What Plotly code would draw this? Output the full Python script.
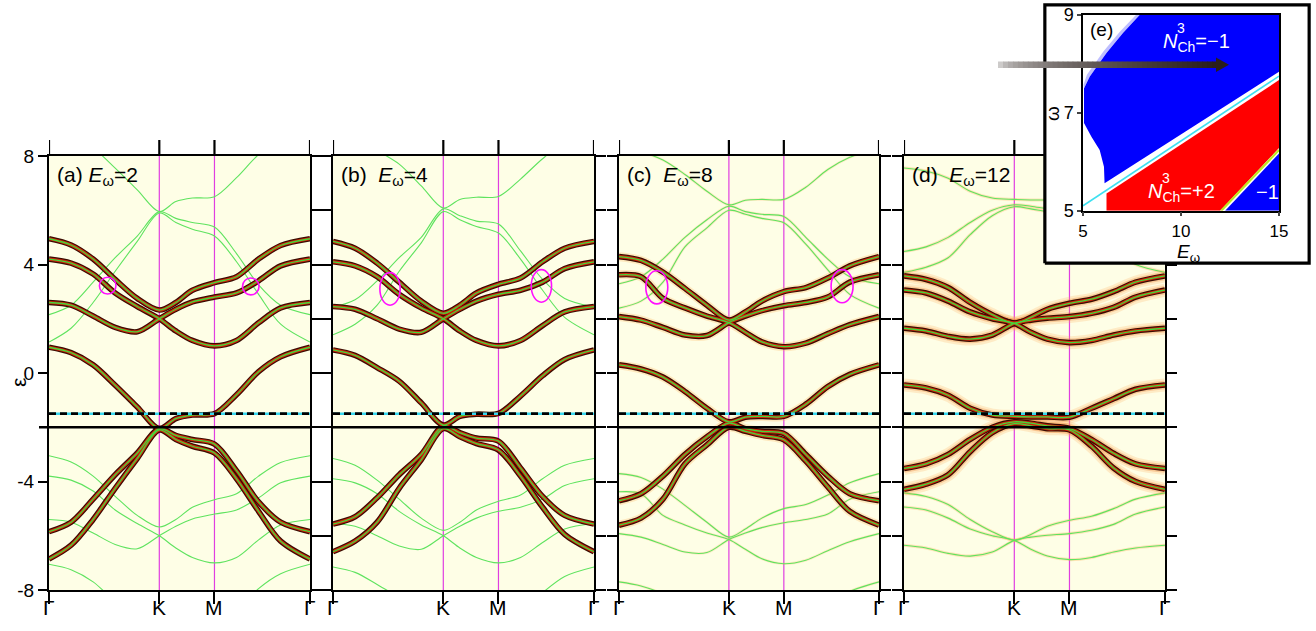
import plotly.graph_objects as go

W, H = 1316, 631

# ---------------- data ----------------
K_PATH = [0, 0.2, 0.4, 0.6, 0.8, 1.0, 1.15, 1.3, 1.5, 1.7, 1.9, 2.1, 2.366]
K_TICK_VALS = [0, 1.0, 1.5, 2.366]
K_TICK_TEXT = ["Γ", "K", "M", "Γ"]
EPS_LABELS = [8, 4, 0, -4, -8]
EPS_TICKS = [8, 6, 4, 2, 0, -2, -4, -6, -8]
OMEGA = 8.0          # Floquet replica shift (ω)
FERMI = -1.5
GAP_LINE = -2.0
PANEL_TAGS = ["(a) ", "(b)  ", "(c)  ", "(d)  "]
E_OMEGA = [2, 4, 8, 12]

BANDS_A = [
    [4.95, 4.72, 4.2, 3.45, 2.75, 2.32, 2.6, 3.05, 3.33, 3.55, 4.2, 4.7, 4.95],
    [4.2, 4.05, 3.65, 2.95, 2.45, 2.0, 1.55, 1.2, 1.0, 1.2, 1.85, 2.4, 2.6],
    [2.6, 2.5, 2.1, 1.68, 1.52, 2.0, 2.35, 2.62, 2.8, 2.95, 3.4, 3.95, 4.2],
    [0.95, 0.75, 0.3, -0.45, -1.25, -2.05, -1.68, -1.55, -1.5, -0.8, 0.05, 0.6, 0.95],
    [-5.85, -5.5, -4.65, -3.75, -2.95, -2.05, -2.3, -2.45, -2.62, -3.6, -4.75, -5.5, -5.85],
    [-6.86, -6.35, -5.4, -4.25, -3.15, -2.1, -2.45, -2.7, -2.95, -3.9, -5.1, -6.2, -6.86],
]
BANDS_B = [
    [4.85, 4.6, 4.05, 3.35, 2.65, 2.2, 2.5, 2.95, 3.27, 3.5, 4.1, 4.6, 4.85],
    [4.1, 3.95, 3.55, 2.9, 2.4, 2.0, 1.55, 1.2, 1.0, 1.2, 1.75, 2.25, 2.45],
    [2.45, 2.35, 2.0, 1.62, 1.5, 2.0, 2.35, 2.65, 2.9, 3.05, 3.35, 3.85, 4.1],
    [0.85, 0.65, 0.2, -0.3, -1.1, -1.92, -1.6, -1.52, -1.49, -0.85, -0.1, 0.5, 0.85],
    [-5.57, -5.3, -4.6, -3.75, -3.0, -1.95, -2.2, -2.4, -2.51, -3.5, -4.55, -5.25, -5.57],
    [-6.59, -6.2, -5.5, -4.25, -3.2, -2.05, -2.35, -2.6, -2.84, -3.8, -4.95, -5.95, -6.59],
]
BANDS_C = [
    [4.29, 4.15, 3.72, 3.12, 2.5, 1.95, 2.25, 2.65, 3.0, 3.15, 3.5, 3.95, 4.29],
    [3.62, 3.55, 2.75, 2.4, 2.1, 1.86, 1.5, 1.15, 0.97, 1.1, 1.45, 1.78, 2.08],
    [2.08, 1.95, 1.68, 1.4, 1.38, 1.86, 2.1, 2.3, 2.48, 2.6, 2.8, 3.35, 3.62],
    [0.3, 0.15, -0.15, -0.68, -1.3, -1.8, -1.63, -1.6, -1.6, -1.15, -0.5, -0.05, 0.3],
    [-4.71, -4.45, -3.8, -3.0, -2.35, -1.85, -2.05, -2.15, -2.23, -3.0, -3.8, -4.45, -4.71],
    [-5.61, -5.35, -4.65, -3.35, -2.65, -2.0, -2.15, -2.3, -2.46, -3.25, -4.2, -5.1, -5.61],
]
BANDS_D = [
    [3.58, 3.45, 3.15, 2.6, 2.15, 1.83, 2.05, 2.35, 2.57, 2.72, 3.0, 3.35, 3.58],
    [3.06, 2.95, 2.65, 2.25, 2.0, 1.83, 1.5, 1.25, 1.12, 1.2, 1.4, 1.55, 1.65],
    [1.65, 1.55, 1.35, 1.25, 1.4, 1.83, 1.95, 2.02, 2.08, 2.2, 2.42, 2.8, 3.06],
    [-0.44, -0.55, -0.82, -1.3, -1.55, -1.6, -1.62, -1.62, -1.63, -1.3, -0.95, -0.6, -0.44],
    [-3.52, -3.35, -3.0, -2.45, -2.0, -1.8, -1.85, -1.95, -2.04, -2.45, -2.96, -3.35, -3.52],
    [-4.29, -4.1, -3.75, -2.9, -2.2, -1.87, -1.95, -2.05, -2.1, -2.7, -3.5, -4.0, -4.29],
]
# magenta anticrossing markers: (k, eps, half-width in k, half-height in eps)
RINGS_A = [(0.532, 3.22, 0.075, 0.31), (1.829, 3.19, 0.075, 0.31)]
RINGS_B = [(0.517, 3.10, 0.092, 0.60), (1.889, 3.21, 0.092, 0.60)]
RINGS_C = [(0.344, 3.16, 0.100, 0.61), (2.030, 3.20, 0.100, 0.61)]

# inset (e): phase diagram in (E_omega, omega)
INSET_E_TICKS = [5, 10, 15]
INSET_W_TICKS = [5, 7, 9]
BLUE_E = [7.89, 15, 15, 6.1, 6.07, 5.85, 5.43, 5.05, 5.05, 5.34, 6.19, 7.04, 7.89]
BLUE_W = [9, 9, 7.84, 5.56, 5.9, 6.24, 6.51, 6.79, 7.5, 7.74, 8.22, 8.63, 9]
FUZZ_E = [7.7, 6.88, 6.03, 5.2, 5.03, 5.05, 5.34, 6.19, 7.04, 7.89, 7.7]
FUZZ_W = [9, 8.66, 8.25, 7.78, 7.58, 7.5, 7.74, 8.22, 8.63, 9, 9]
RED_E = [6.2, 6.2, 15, 15, 12.0, 6.2]
RED_W = [5.0, 5.35, 7.67, 6.28, 5.0, 5.0]
BLUE2_E = [12.25, 15, 15, 12.25]
BLUE2_W = [5.0, 6.17, 5.0, 5.0]
CYAN_E = [5, 15]
CYAN_W = [5.1, 7.75]
EDGE_E = [12.05, 15]
EDGE_W = [5.0, 6.24]

# ---------------- helpers ----------------
def px(xp):
    return xp / W


def py(yp):
    return 1 - yp / H


FONT = "Liberation Sans, Arial, sans-serif"
PANELS = [BANDS_A, BANDS_B, BANDS_C, BANDS_D]
RINGS = [RINGS_A, RINGS_B, RINGS_C, []]
PANEL_PX = [(49, 310), (333, 594), (619, 879), (904, 1165)]
Y_TOP, Y_BOT = 156, 590
INSET_BOX = (1043, 1311, 3, 265)

fig = go.Figure()
shapes = []
annotations = []
layout = dict(
    width=W, height=H, margin=dict(l=0, r=0, t=0, b=0, autoexpand=False),
    paper_bgcolor="white", plot_bgcolor="rgba(0,0,0,0)", showlegend=False,
    font=dict(family=FONT, color="black", size=18),
)


def line_trace(x, y, xa, ya, color, width, shape="spline"):
    return go.Scatter(x=x, y=y, mode="lines", xaxis=xa, yaxis=ya, hoverinfo="skip",
                      line=dict(color=color, width=width, shape=shape, smoothing=0.9))


def text_at(xp, yp, text, size=20, color="black", angle=0, xanchor="center"):
    return dict(xref="paper", yref="paper", x=px(xp), y=py(yp), text=text, showarrow=False,
                xanchor=xanchor, yanchor="middle", textangle=angle,
                font=dict(size=size, family=FONT, color=color))


for i, bands in enumerate(PANELS):
    n = "" if i == 0 else str(i + 1)
    xa, ya = "x" + n, "y" + n
    x0p, x1p = PANEL_PX[i]

    # panel background
    shapes.append(dict(type="rect", xref=xa + " domain", yref=ya + " domain", x0=0, x1=1,
                       y0=0, y1=1, fillcolor="#FEFEE6", line=dict(width=0), layer="below"))

    # Floquet replicas (thin)
    rep_styles = [("#5fe35f", 1.1)]
    if i == 3:
        rep_styles = [("rgba(255,170,70,0.3)", 3.0), ("#5fe35f", 1.1)]
    elif i == 2:
        rep_styles = [("rgba(255,170,70,0.22)", 2.6), ("#5fe35f", 1.1)]
    for color, wdt in rep_styles:
        for b in bands:
            for s in (OMEGA, -OMEGA):
                fig.add_trace(line_trace(K_PATH, [v + s for v in b], xa, ya, color, wdt))

    # physical bands (thick, layered)
    styles = [("#3a0c00", 5.6), ("#d0280c", 3.2), ("#44d83a", 1.3)]
    if i == 2:
        styles = [("rgba(255,170,70,0.25)", 9)] + styles
    if i == 3:
        styles = [("rgba(255,170,80,0.22)", 13), ("rgba(240,130,50,0.3)", 8.5)] + styles
    for color, wdt in styles:
        for b in bands:
            fig.add_trace(line_trace(K_PATH, b, xa, ya, color, wdt))

    # axes
    layout["xaxis" + n] = dict(
        domain=[px(x0p), px(x1p)], range=[0, K_TICK_VALS[-1]], anchor=ya,
        tickvals=K_TICK_VALS, showticklabels=False, ticks="outside", ticklen=12,
        tickwidth=2.2, tickcolor="black", mirror=True, showline=True, linewidth=2.2,
        linecolor="black", showgrid=False, zeroline=False, automargin=False, fixedrange=True,
    )
    ydict = dict(
        domain=[py(Y_BOT), py(Y_TOP)], range=[-8, 8], anchor=xa, automargin=False,
        showline=True, linewidth=2.2, linecolor="black", showgrid=False, zeroline=False,
        ticks="outside", tickwidth=2.2, tickcolor="black", fixedrange=True,
    )
    if i == 0:
        ydict.update(tickvals=EPS_LABELS, ticktext=[str(v) for v in EPS_LABELS], ticklen=9,
                     mirror=True, tickfont=dict(size=19, family=FONT))
    else:
        ydict.update(tickvals=EPS_TICKS, showticklabels=False, ticklen=10, mirror="ticks")
    layout["yaxis" + n] = ydict

    # top ticks and bottom tick labels at high-symmetry points
    for kv, lab in zip(K_TICK_VALS, K_TICK_TEXT):
        kx = x0p + (x1p - x0p) * kv / K_TICK_VALS[-1]
        if not (INSET_BOX[0] - 2 <= kx <= INSET_BOX[1]):
            shapes.append(dict(type="line", xref=xa, yref="paper", x0=kv, x1=kv,
                               y0=py(Y_TOP), y1=py(Y_TOP - 16),
                               line=dict(color="black", width=2.2), layer="above"))
        annotations.append(dict(xref=xa, yref="paper", x=kv, y=py(607), text=lab,
                                showarrow=False, xanchor="center", yanchor="middle",
                                font=dict(size=21, family=FONT, color="black")))

    # K and M guide lines
    for kv in (1.0, 1.5):
        shapes.append(dict(type="line", xref=xa, yref=ya, x0=kv, x1=kv, y0=-8, y1=8,
                           line=dict(color="#e03ee0", width=1.2), layer="below"))
    # gap line (solid) and dashed line
    if i == 0:
        shapes.append(dict(type="line", xref="paper", yref=ya, x0=px(39), x1=px(x1p),
                           y0=GAP_LINE, y1=GAP_LINE, line=dict(color="black", width=2.6),
                           layer="above"))
    else:
        shapes.append(dict(type="line", xref=xa, yref=ya, x0=0, x1=K_TICK_VALS[-1],
                           y0=GAP_LINE, y1=GAP_LINE, line=dict(color="black", width=2.6),
                           layer="above"))
    shapes.append(dict(type="line", xref=xa, yref=ya, x0=0, x1=K_TICK_VALS[-1],
                       y0=FERMI, y1=FERMI, line=dict(color="#35d6ee", width=2.4), layer="above"))
    shapes.append(dict(type="line", xref=xa, yref=ya, x0=0, x1=K_TICK_VALS[-1],
                       y0=FERMI, y1=FERMI, line=dict(color="black", width=2.8, dash="7px,4px"),
                       layer="above"))
    for (kc, ec, hw, hh) in RINGS[i]:
        shapes.append(dict(type="circle", xref=xa, yref=ya, x0=kc - hw, x1=kc + hw,
                           y0=ec - hh, y1=ec + hh, line=dict(color="#ff10ff", width=1.6),
                           layer="above"))
    annotations.append(text_at(x0p + 6, 176,
                               f"{PANEL_TAGS[i]}<i>E</i><sub>ω</sub>={E_OMEGA[i]}",
                               size=21, xanchor="left"))

# y-axis label of panel (a)
annotations.append(text_at(18, 383, "ε", size=21, angle=-90))

# right-hand ticks of panel (a) via an overlaying axis
fig.add_trace(go.Scatter(x=[0], y=[0], xaxis="x", yaxis="y7", mode="markers",
                         marker=dict(opacity=0), hoverinfo="skip"))
layout["yaxis7"] = dict(overlaying="y", side="right", anchor="x", range=[-8, 8],
                        tickvals=EPS_TICKS, showticklabels=False, ticks="outside", ticklen=10,
                        tickwidth=2.2, tickcolor="black", showline=False, showgrid=False,
                        zeroline=False, fixedrange=True, automargin=False)

# ---------------- inset (e) ----------------
# white cover box (subplot 5) drawn above panel (d)
fig.add_trace(go.Scatter(x=[0, 1, 1, 0, 0], y=[0, 0, 1, 1, 0], xaxis="x5", yaxis="y5",
                         mode="lines", fill="toself", fillcolor="white",
                         line=dict(color="black", width=3.2), hoverinfo="skip"))
layout["xaxis5"] = dict(domain=[px(INSET_BOX[0]), px(INSET_BOX[1])], range=[-0.007, 1.007],
                        visible=False, anchor="y5", fixedrange=True, automargin=False)
layout["yaxis5"] = dict(domain=[py(INSET_BOX[3]), py(INSET_BOX[2])], range=[-0.007, 1.007],
                        visible=False, anchor="x5", fixedrange=True, automargin=False)

ix, iy = "x6", "y6"
fig.add_trace(go.Scatter(x=BLUE_E, y=BLUE_W, xaxis=ix, yaxis=iy, mode="lines", fill="toself",
                         fillcolor="#0000ff", line=dict(width=0, color="#0000ff"),
                         hoverinfo="skip"))
fig.add_trace(go.Scatter(x=FUZZ_E, y=FUZZ_W, xaxis=ix, yaxis=iy, mode="lines", fill="toself",
                         fillcolor="rgba(70,70,255,0.35)", line=dict(width=0),
                         hoverinfo="skip"))
fig.add_trace(go.Scatter(x=RED_E, y=RED_W, xaxis=ix, yaxis=iy, mode="lines", fill="toself",
                         fillcolor="#ff0000", line=dict(width=0, color="#ff0000"),
                         hoverinfo="skip"))
fig.add_trace(go.Scatter(x=BLUE2_E, y=BLUE2_W, xaxis=ix, yaxis=iy, mode="lines", fill="toself",
                         fillcolor="#0000ff", line=dict(width=0, color="#0000ff"),
                         hoverinfo="skip"))
fig.add_trace(go.Scatter(x=CYAN_E, y=CYAN_W, xaxis=ix, yaxis=iy, mode="lines",
                         line=dict(color="#3ee0f0", width=1.6), hoverinfo="skip"))
fig.add_trace(go.Scatter(x=EDGE_E, y=EDGE_W, xaxis=ix, yaxis=iy, mode="lines",
                         line=dict(color="#bfe81e", width=2.2), hoverinfo="skip"))
layout["xaxis6"] = dict(domain=[px(1083), px(1279)], range=[5, 15], anchor=iy,
                        tickvals=INSET_E_TICKS, ticks="outside", ticklen=4, tickwidth=1.5,
                        showline=True, linewidth=1.5, linecolor="black", mirror=True,
                        showgrid=False, zeroline=False, tickfont=dict(size=17, family=FONT),
                        automargin=False, fixedrange=True)
layout["yaxis6"] = dict(domain=[py(210.7), py(15)], range=[5, 9], anchor=ix,
                        tickvals=INSET_W_TICKS, ticks="outside", ticklen=4, tickwidth=1.5,
                        showline=True, linewidth=1.5, linecolor="black", mirror=True,
                        showgrid=False, zeroline=False, tickfont=dict(size=18, family=FONT),
                        automargin=False, fixedrange=True)

annotations += [
    text_at(1101, 30, "(e)", size=19),
    text_at(1188, 253, "<i>E</i><sub>ω</sub>", size=19),
    text_at(1053, 114, "ω", size=19, angle=-90),
    text_at(1161, 42, "<i>N</i><sub>Ch</sub>=−1", color="white", xanchor="left"),
    text_at(1181, 28, "3", size=14, color="white"),
    text_at(1146, 192, "<i>N</i><sub>Ch</sub>=+2", color="white", xanchor="left"),
    text_at(1166, 178, "3", size=14, color="white"),
    text_at(1267, 192, "−1", color="white"),
]

# gradient arrow (paper coordinates)
ax0, ax1 = 998, 1217
nseg = 44
light, dark = (238, 238, 238), (42, 30, 26)
for s in range(nseg):
    t = (s + 0.5) / nseg
    f = t ** 0.4
    c = tuple(int(light[j] + (dark[j] - light[j]) * f) for j in range(3))
    xa0 = ax0 + (ax1 - ax0) * s / nseg
    xa1 = ax0 + (ax1 - ax0) * (s + 1) / nseg + 0.6
    shapes.append(dict(type="rect", xref="paper", yref="paper", x0=px(xa0), x1=px(xa1),
                       y0=py(68), y1=py(61.5), fillcolor=f"rgb{c}", line=dict(width=0),
                       layer="above"))
shapes.append(dict(type="path", xref="paper", yref="paper",
                   path=f"M {px(1216)},{py(57.5)} L {px(1229)},{py(64.8)} L {px(1216)},{py(72)} Z",
                   fillcolor="rgb(42,30,26)", line=dict(width=0), layer="above"))

layout["shapes"] = shapes
layout["annotations"] = annotations
fig.update_layout(**layout)
fig.write_html("out.html", config={"displayModeBar": False},
               post_script="document.body.style.margin='0px';"
                           "document.body.style.overflow='hidden';")
